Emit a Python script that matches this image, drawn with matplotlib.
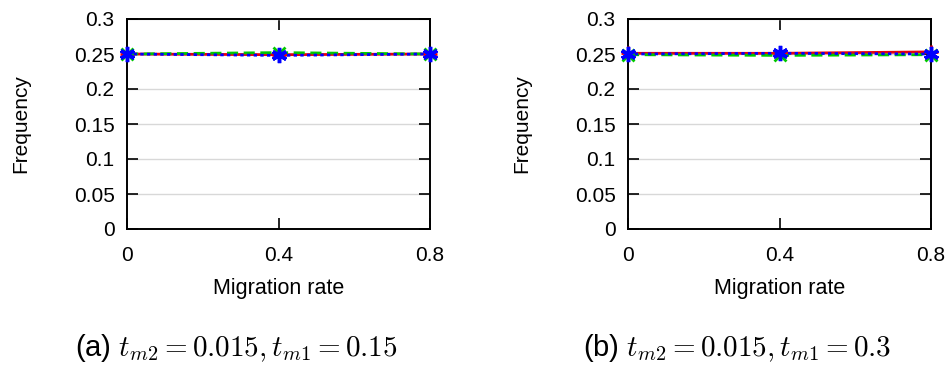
import matplotlib
matplotlib.use('Agg')
import matplotlib.pyplot as plt

plt.rcParams['font.family'] = ['Liberation Sans', 'DejaVu Sans']
plt.rcParams['mathtext.fontset'] = 'cm'

migration = [0, 0.4, 0.8]
yticks = [0, 0.05, 0.1, 0.15, 0.2, 0.25, 0.3]
ytick_labels = ['0', '0.05', '0.1', '0.15', '0.2', '0.25', '0.3']
xtick_labels = ['0', '0.4', '0.8']

# panel (a)
red_a = [0.250, 0.249, 0.250]
green_a = [0.250, 0.252, 0.250]
blue_a = [0.250, 0.248, 0.250]
# panel (b)
red_b = [0.251, 0.251, 0.253]
green_b = [0.249, 0.248, 0.249]
blue_b = [0.250, 0.251, 0.250]

captions = [r'(a) $t_{m2} = 0.015, t_{m1} = 0.15$',
            r'(b) $t_{m2} = 0.015, t_{m1} = 0.3$']

fig = plt.figure(figsize=(9.46, 3.71), dpi=100)
lefts = [127 / 946, 628 / 946]
panels = [(red_a, green_a, blue_a), (red_b, green_b, blue_b)]

for left, (r, g, b), cap in zip(lefts, panels, captions):
    ax = fig.add_axes([left, 142 / 371, 303 / 946, 210 / 371])
    ax.plot(migration, r, color='#e8000b', lw=2, ls='-', marker='+',
            ms=10, mew=2, clip_on=False, zorder=3)
    ax.plot(migration, g, color='#00c800', lw=2, ls=(0, (4, 2)), marker='x',
            ms=8, mew=2, clip_on=False, zorder=4)
    ax.plot(migration, b, color='#0000ff', lw=2, ls=(0, (1.2, 1.2)), marker=(6, 2, 0),
            ms=11, mew=2.5, clip_on=False, zorder=5)
    ax.set_xlim(0, 0.8)
    ax.set_ylim(0, 0.3)
    ax.set_xticks(migration)
    ax.set_xticklabels(xtick_labels)
    ax.set_yticks(yticks)
    ax.set_yticklabels(ytick_labels)
    ax.tick_params(direction='in', length=8, width=1.2, top=True, right=True,
                   labelsize=15)
    ax.tick_params(axis='y', pad=9)
    ax.tick_params(axis='x', pad=12)
    ax.yaxis.grid(True, color='#d8d8d8', lw=1)
    ax.set_axisbelow(True)
    for s in ax.spines.values():
        s.set_linewidth(1.4)
    ax.set_xlabel('Migration rate', fontsize=15.5)
    ax.set_ylabel('Frequency', fontsize=15)
    ax.xaxis.set_label_coords(0.5, -0.235)
    ax.yaxis.set_label_coords(-0.32, 0.5)
    ax.text(0.36, -0.567, cap, transform=ax.transAxes, ha='center', va='center',
            fontsize=21)

fig.savefig('out.png', dpi=100)
